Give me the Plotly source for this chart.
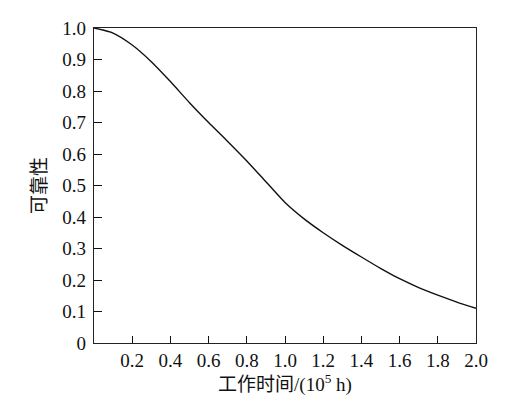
import plotly.graph_objects as go

time_1e5h = [0.0, 0.1, 0.2, 0.3, 0.4, 0.5, 0.6, 0.7, 0.8, 0.9, 1.0,
             1.1, 1.2, 1.3, 1.4, 1.5, 1.6, 1.7, 1.8, 1.9, 2.0]
reliability = [1.0, 0.984, 0.946, 0.893, 0.830, 0.763, 0.700, 0.640, 0.578, 0.512, 0.446,
               0.394, 0.350, 0.310, 0.273, 0.237, 0.204, 0.176, 0.152, 0.130, 0.110]

x_ticks = [0.2, 0.4, 0.6, 0.8, 1.0, 1.2, 1.4, 1.6, 1.8, 2.0]
x_ticktext = ["0.2", "0.4", "0.6", "0.8", "1.0", "1.2", "1.4", "1.6", "1.8", "2.0"]
y_ticks = [0, 0.1, 0.2, 0.3, 0.4, 0.5, 0.6, 0.7, 0.8, 0.9, 1.0]
y_ticktext = ["0", "0.1", "0.2", "0.3", "0.4", "0.5", "0.6", "0.7", "0.8", "0.9", "1.0"]

FONT = "Liberation Serif, Noto Sans CJK SC, serif"

fig = go.Figure()
fig.add_trace(go.Scatter(
    x=time_1e5h, y=reliability, mode="lines",
    line=dict(color="#111111", width=1.4, shape="spline", smoothing=0.6),
    showlegend=False, hoverinfo="skip",
))

fig.update_layout(
    width=509, height=404,
    margin=dict(l=94, r=33, t=28, b=61),
    paper_bgcolor="white", plot_bgcolor="white",
    font=dict(family=FONT, size=19, color="#111111"),
    xaxis=dict(
        range=[0, 2.0], tickvals=x_ticks, ticktext=x_ticktext,
        ticks="inside", ticklen=7, tickwidth=1, tickcolor="#111111",
        showline=True, linecolor="#222222", linewidth=1.2, mirror=True,
        showgrid=False, zeroline=False, automargin=False,
        title=dict(text="工作时间/(10<sup>5</sup> h)", standoff=4,
                   font=dict(family=FONT, size=19)),
        tickfont=dict(family=FONT, size=19),
    ),
    yaxis=dict(
        range=[0, 1.0], tickvals=y_ticks, ticktext=y_ticktext,
        ticks="inside", ticklen=8, tickwidth=1, tickcolor="#111111",
        showline=True, linecolor="#222222", linewidth=1.2, mirror=True,
        showgrid=False, zeroline=False, automargin=False,
        title=dict(text="可靠性", standoff=10,
                   font=dict(family=FONT, size=19)),
        tickfont=dict(family=FONT, size=19),
        ticklabelstandoff=3,
    ),
)

fig.write_html("out.html", config={"displayModeBar": False},
               post_script="document.body.style.margin='0';")
